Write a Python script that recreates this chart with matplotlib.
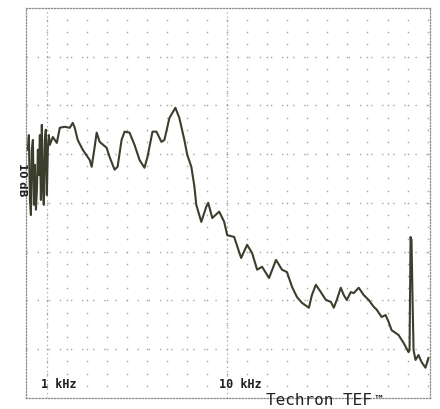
import numpy as np
import matplotlib.pyplot as plt

freq = [0.785, 0.795, 0.806, 0.816, 0.826, 0.837, 0.848, 0.858, 0.870, 0.881,
        0.892, 0.903, 0.915, 0.927, 0.938, 0.950, 0.962, 0.975, 0.987, 1.000,
        1.013, 1.026, 1.039, 1.079, 1.136, 1.180, 1.257, 1.340, 1.392, 1.428,
        1.483, 1.581, 1.728, 1.773, 1.842, 1.889, 1.963, 2.145, 2.229, 2.375,
        2.468, 2.596, 2.698, 2.874, 3.063, 3.265, 3.479, 3.614, 3.852, 4.053,
        4.319, 4.487, 4.782, 5.162, 5.430, 5.787, 6.010, 6.326, 6.571, 6.740,
        7.185, 7.656, 7.853, 8.264, 9.034, 9.625, 10.00, 10.93, 11.95, 12.90,
        13.75, 14.65, 15.61, 17.06, 18.65, 20.13, 21.46, 22.87, 24.36, 25.97,
        28.38, 29.49, 31.02, 33.06, 35.24, 37.55, 39.01, 40.52, 42.64, 44.30,
        46.03, 48.43, 50.31, 53.62, 57.14, 60.87, 64.90, 67.42, 71.86, 75.59,
        78.53, 81.58, 89.18, 95.04, 101.3, 102.6, 103.9, 105.2, 106.6, 108.0,
        110.7, 115.0, 119.5, 125.7, 130.6]
livello = [-29.1, -26.1, -39.4, -42.5, -29.1, -27.1, -40.4, -32.2, -41.4, -37.3,
           -29.1, -34.3, -26.1, -39.4, -24.0, -36.3, -40.4, -27.1, -25.0, -38.4,
           -29.1, -26.1, -28.1, -26.5, -27.7, -24.6, -24.4, -24.6, -23.6, -24.6,
           -27.1, -29.1, -31.2, -32.6, -28.5, -25.6, -27.5, -28.7, -30.6, -33.2,
           -32.6, -27.1, -25.4, -25.6, -28.1, -31.2, -32.8, -30.6, -25.4, -25.4,
           -27.5, -27.1, -22.6, -20.5, -22.6, -27.1, -30.2, -32.6, -36.5, -40.4,
           -43.9, -40.8, -40.0, -43.1, -41.8, -43.9, -46.6, -47.0, -51.3, -48.6,
           -50.3, -53.7, -53.1, -55.4, -51.7, -53.7, -54.2, -57.2, -59.3, -60.5,
           -61.5, -58.9, -56.8, -58.3, -59.9, -60.3, -61.5, -59.9, -57.4, -58.9,
           -59.9, -58.3, -58.5, -57.4, -58.9, -59.9, -61.3, -61.9, -63.4, -63.0,
           -64.4, -66.1, -67.1, -68.7, -70.6, -70.2, -47.0, -47.6, -59.9, -70.2,
           -72.2, -71.2, -72.6, -73.8, -71.8]

f_min, f_max = 0.766, 133.0
db_min, db_max = -80, 0

fig = plt.figure(figsize=(4.4, 4.09), dpi=100)
ax = fig.add_axes([0.059, 0.027, 0.918, 0.954])
ax.set_xscale("log")
ax.set_xlim(f_min, f_max)
ax.set_ylim(db_min, db_max)

grigio = "#a6a69c"

# griglia a punti: 9 colonne per decade, 4 righe per divisione da 10 dB
colonne = 10 ** (np.arange(-1, 20) / 9)
colonne = colonne[(colonne > f_min * 1.02) & (colonne < f_max * 0.98)]
righe = np.arange(db_min + 2.5, db_max, 2.5)
cx, cy = np.meshgrid(colonne, righe)
ax.scatter(cx.ravel(), cy.ravel(), s=1.4, color=grigio, linewidths=0, zorder=1)

# righe principali piu fitte
for db in range(db_min + 10, db_max, 10):
    ax.axhline(db, color=grigio, lw=1.0, ls=(0, (1, 7)), zorder=1)

# linee di 1 kHz e 10 kHz
for f in [1, 10]:
    ax.axvline(f, color=grigio, lw=0.9, ls=(0, (1, 2.5)), zorder=1)

for lato in ax.spines.values():
    lato.set_color("#8c8c84")
    lato.set_linewidth(0.9)
    lato.set_linestyle((0, (1, 1.5)))

ax.set_xticks([])
ax.set_yticks([])
ax.minorticks_off()

# curva
ax.plot(freq, livello, color="#3b3e2c", lw=1.5, zorder=3)

ax.text(0.93, -77.3, "1 kHz", fontsize=8.5, fontweight="bold",
        family="DejaVu Sans Mono", color="#1e1e1e", ha="left", va="center")
ax.text(9.0, -77.3, "10 kHz", fontsize=8.5, fontweight="bold",
        family="DejaVu Sans Mono", color="#1e1e1e", ha="left", va="center")
fig.text(0.605, 1 - 405 / 409, "Techron TEF", fontsize=11.5,
         family="DejaVu Sans Mono", color="#222222", ha="left", va="baseline")
fig.text(0.848, 1 - 393 / 409, "™", fontsize=7.5, fontweight="bold",
         color="#222222", ha="left", va="top")
fig.text(0.05, 0.56, "10 dB", fontsize=7.5, fontweight="bold", rotation=270,
         color="#222222", ha="center", va="center")

fig.savefig("out.png", dpi=100, facecolor="white")
